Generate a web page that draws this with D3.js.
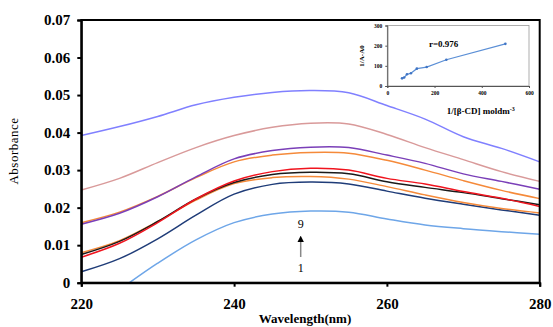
<!DOCTYPE html>
<html>
<head>
<meta charset="utf-8">
<script src="https://cdn.jsdelivr.net/npm/d3@7"></script>
<style>
  body { margin: 0; background: #fff; }
  svg { display: block; }
  text { font-family: "Liberation Serif", "Times New Roman", serif; }
</style>
</head>
<body>
<svg id="chart" width="553" height="327"></svg>
<script>
// wavelengths (nm) shared by curves 2..9
const wl = [220, 225, 230, 235, 240, 245, 250, 255, 260, 265, 270, 275, 280];
// curve 1 starts later (crosses zero near 226 nm)
const wl1 = [226.3, 230, 235, 240, 245, 250, 255, 260, 265, 270, 275, 280];

const curve1 = [0, 0.0052, 0.0114, 0.0160, 0.0183, 0.0191, 0.0188, 0.0170, 0.0154, 0.0144, 0.0136, 0.0129];
const curve2 = [0.0029, 0.0064, 0.0117, 0.0180, 0.0236, 0.0262, 0.0268, 0.0263, 0.0244, 0.0225, 0.0209, 0.0194, 0.0180];
const curve3 = [0.0080, 0.0112, 0.0163, 0.0220, 0.0264, 0.0280, 0.0283, 0.0276, 0.0256, 0.0234, 0.0214, 0.0198, 0.0186];
const curve4 = [0.0075, 0.0110, 0.0163, 0.0223, 0.0267, 0.0288, 0.0294, 0.0290, 0.0269, 0.0254, 0.0240, 0.0224, 0.0208];
const curve5 = [0.0068, 0.0105, 0.0160, 0.0223, 0.0271, 0.0296, 0.0305, 0.0300, 0.0278, 0.0263, 0.0243, 0.0225, 0.0203];
const curve6 = [0.0160, 0.0188, 0.0230, 0.0280, 0.0322, 0.0340, 0.0347, 0.0345, 0.0326, 0.0300, 0.0272, 0.0246, 0.0224];
const curve7 = [0.0156, 0.0185, 0.0229, 0.0282, 0.0330, 0.0352, 0.0361, 0.0360, 0.0340, 0.0318, 0.0290, 0.0270, 0.0249];
const curve8 = [0.0247, 0.0278, 0.0320, 0.0360, 0.0392, 0.0414, 0.0425, 0.0423, 0.0395, 0.0360, 0.0328, 0.0296, 0.0270];
const curve9 = [0.0392, 0.0416, 0.0443, 0.0474, 0.0494, 0.0507, 0.0512, 0.0506, 0.0472, 0.0436, 0.0389, 0.0358, 0.0322];

const curveColors = ["#6ea6e8", "#1f3c78", "#f58a3a", "#1a1a1a", "#f0141e", "#f58a3a", "#7a3fb8", "#d99a9a", "#8080ff"];

const xTicks = [220, 240, 260, 280];
const yTicks = [0, 0.01, 0.02, 0.03, 0.04, 0.05, 0.06, 0.07];

// inset: 1/(A-A0) against 1/[β-CD]
const invCD = [62.5, 71.4, 83.3, 100, 125, 166.7, 250, 500];
const invdA = [38, 42, 58, 63, 86, 94, 130, 209];
const insetXTicks = [0, 200, 400, 600];
const insetYTicks = [0, 100, 200, 300];

const svg = d3.select("#chart");
const plotL = 81.3, plotR = 539.7, plotT = 20, plotB = 282.7;

const x = d3.scaleLinear().domain([220, 280]).range([plotL, plotR]);
const y = d3.scaleLinear().domain([0, 0.07]).range([plotB, plotT]);

const series = [
  { xs: wl1, ys: curve1 },
  { xs: wl, ys: curve2 },
  { xs: wl, ys: curve3 },
  { xs: wl, ys: curve4 },
  { xs: wl, ys: curve5 },
  { xs: wl, ys: curve6 },
  { xs: wl, ys: curve7 },
  { xs: wl, ys: curve8 },
  { xs: wl, ys: curve9 }
];

const line = d3.line()
  .x(d => x(d[0]))
  .y(d => y(d[1]))
  .curve(d3.curveCatmullRom.alpha(0.5));

svg.append("g")
  .selectAll("path")
  .data(series)
  .join("path")
  .attr("fill", "none")
  .attr("stroke", (d, i) => curveColors[i])
  .attr("stroke-width", 1.5)
  .attr("d", d => line(d.xs.map((v, i) => [v, d.ys[i]])));

// frame
svg.append("rect")
  .attr("x", plotL).attr("y", plotT)
  .attr("width", plotR - plotL).attr("height", plotB - plotT)
  .attr("fill", "none").attr("stroke", "#000").attr("stroke-width", 2);

const xAxis = svg.append("g")
  .attr("transform", `translate(0,${plotB})`)
  .call(d3.axisBottom(x).tickValues(xTicks).tickSize(4).tickPadding(12));
const yAxis = svg.append("g")
  .attr("transform", `translate(${plotL},0)`)
  .call(d3.axisLeft(y).tickValues(yTicks).tickSize(4).tickPadding(7)
    .tickFormat(d => d === 0 ? "0" : d.toFixed(2)));

[xAxis, yAxis].forEach(g => {
  g.select(".domain").attr("stroke-width", 2);
  g.selectAll(".tick line").attr("stroke-width", 2);
  g.selectAll(".tick text")
    .attr("font-family", "Liberation Serif")
    .attr("font-weight", "bold")
    .attr("font-size", 15)
    .attr("fill", "#000");
});

svg.append("text")
  .attr("x", 305).attr("y", 323)
  .attr("text-anchor", "middle")
  .attr("font-weight", "bold").attr("font-size", 13)
  .text("Wavelength(nm)");

svg.append("text")
  .attr("transform", "translate(18,151) rotate(-90)")
  .attr("text-anchor", "middle")
  .attr("font-size", 13)
  .attr("letter-spacing", 0.5)
  .text("Absorbance");

// arrow 1 -> 9
svg.append("defs").append("marker")
  .attr("id", "head").attr("viewBox", "0 0 10 10")
  .attr("refX", 5).attr("refY", 5)
  .attr("markerWidth", 4.5).attr("markerHeight", 4.5)
  .attr("orient", "auto")
  .append("path").attr("d", "M0,0L10,5L0,10Z").attr("fill", "#000");
svg.append("line")
  .attr("x1", 300.7).attr("x2", 300.7)
  .attr("y1", 257).attr("y2", 239)
  .attr("stroke", "#888").attr("stroke-width", 1.5)
  .attr("marker-end", "url(#head)");
svg.append("text").attr("x", 300.7).attr("y", 228)
  .attr("text-anchor", "middle").attr("font-size", 12).attr("fill", "#000").text("9");
svg.append("text").attr("x", 300.7).attr("y", 272)
  .attr("text-anchor", "middle").attr("font-size", 12).attr("fill", "#000").text("1");

// inset
const ix = d3.scaleLinear().domain([0, 600]).range([387.3, 529]);
const iy = d3.scaleLinear().domain([0, 300]).range([86, 25.5]);
const inset = svg.append("g");

inset.append("rect")
  .attr("x", ix(0)).attr("y", iy(300))
  .attr("width", ix(600) - ix(0)).attr("height", iy(0) - iy(300))
  .attr("fill", "#fff").attr("stroke", "#999").attr("stroke-width", 0.8);

const ixAxis = inset.append("g")
  .attr("transform", `translate(0,${iy(0)})`)
  .call(d3.axisBottom(ix).tickValues(insetXTicks).tickSize(2).tickPadding(3));
const iyAxis = inset.append("g")
  .attr("transform", `translate(${ix(0)},0)`)
  .call(d3.axisLeft(iy).tickValues(insetYTicks).tickSize(2).tickPadding(3));
[ixAxis, iyAxis].forEach(g => {
  g.select(".domain").attr("stroke", "#555");
  g.selectAll(".tick line").attr("stroke", "#555");
  g.selectAll(".tick text")
    .attr("font-family", "Liberation Serif")
    .attr("font-weight", "bold")
    .attr("font-size", 5.5)
    .attr("fill", "#000");
});

const iline = d3.line().x((d, i) => ix(invCD[i])).y(d => iy(d));
inset.append("path")
  .attr("d", iline(invdA))
  .attr("fill", "none").attr("stroke", "#5b8fd6").attr("stroke-width", 1.2);
inset.selectAll("circle.pt")
  .data(invdA)
  .join("circle")
  .attr("class", "pt")
  .attr("cx", (d, i) => ix(invCD[i]))
  .attr("cy", d => iy(d))
  .attr("r", 1.3)
  .attr("fill", "#3f74c4");

inset.append("text")
  .attr("x", 429).attr("y", 47)
  .attr("font-weight", "bold").attr("font-size", 9)
  .text("r=0.976");

const ixl = inset.append("text")
  .attr("x", 446.7).attr("y", 114)
  .attr("font-weight", "bold").attr("font-size", 9);
ixl.append("tspan").text("1/[β-CD] moldm");
ixl.append("tspan").attr("dy", -3).attr("font-size", 6).text("-3");

inset.append("text")
  .attr("transform", "translate(364,56) rotate(-90)")
  .attr("text-anchor", "middle")
  .attr("font-weight", "bold").attr("font-size", 7)
  .text("1/A-A0");
</script>
</body>
</html>
